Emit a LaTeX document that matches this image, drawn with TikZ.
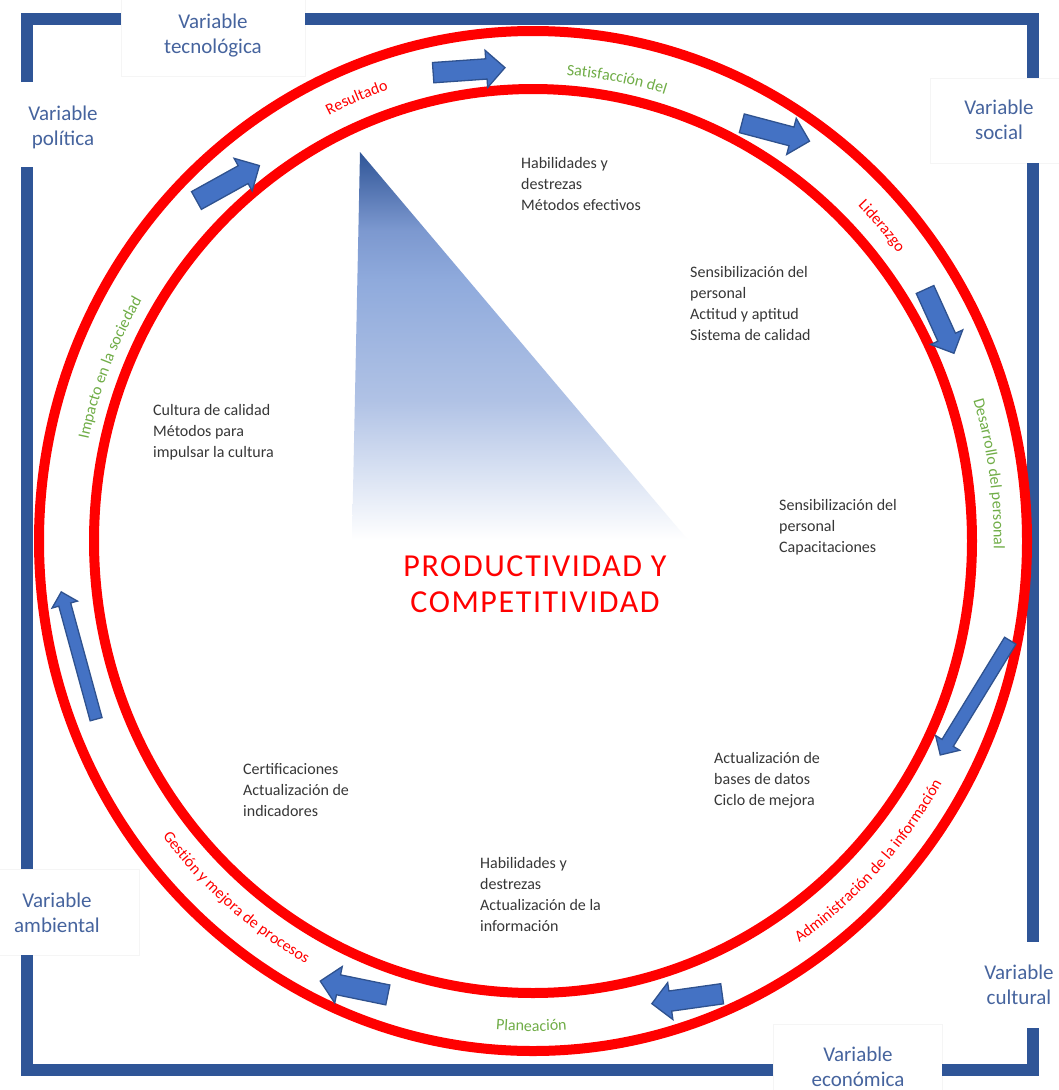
\documentclass[tikz,border=0pt]{standalone}
\usepackage{fontspec}
\setmainfont{Carlito}
\usetikzlibrary{shapes.arrows,decorations.text}
\definecolor{frameblue}{RGB}{47,85,151}
\definecolor{varblue}{RGB}{70,100,158}
\definecolor{ringred}{RGB}{255,0,0}
\definecolor{ringgreen}{RGB}{112,173,71}
\definecolor{txtgray}{RGB}{55,55,55}
\definecolor{arrowfill}{RGB}{68,114,196}
\definecolor{arrowedge}{RGB}{47,82,143}
\definecolor{tdark}{RGB}{47,85,151}
\definecolor{tmid}{RGB}{124,152,207}
\definecolor{tlight}{RGB}{143,170,220}
\definecolor{tpale}{RGB}{176,194,229}
\definecolor{tfaint}{RGB}{221,229,244}
\pgfdeclareverticalshading{trishade}{100bp}{color(0bp)=(white); color(25bp)=(white); color(32.7bp)=(tfaint); color(43bp)=(tpale); color(58.5bp)=(tlight); color(65bp)=(tmid); color(75bp)=(tdark); color(100bp)=(tdark)}
\newcommand\ringfont{\fontsize{16}{16}\selectfont}
\newcommand\ringlabel[5]{%
  \path[decorate, decoration={text along path, text align=center, text={|\ringfont\color{#4}|#5}}]
    (533,541) ++({#1-#3*35}:{466*#2} and {481*#2})
    arc[start angle={#1-#3*35}, end angle={#1+#3*35}, x radius={466*#2}, y radius={481*#2}];}
\begin{document}
\begin{tikzpicture}[x=1pt,y=-1pt,
  framepart/.style={line width=12pt, draw=frameblue, line join=miter, line cap=butt},
  faintbox/.style={draw=black!4, line width=0.8pt},
  ring/.style={draw=ringred, line width=10pt},
  varlabel/.style={anchor=north, inner sep=0pt, align=center, text=varblue, font=\fontsize{21}{25}\selectfont},
  bodytext/.style={anchor=north west, inner sep=0pt, align=left, text=txtgray, font=\fontsize{16}{21}\selectfont},
  titletext/.style={anchor=north, inner sep=0pt, align=center, text=ringred, font=\fontsize{32}{36}\selectfont\addfontfeatures{LetterSpace=5}},
  barrow/.style n args={4}{single arrow, draw=arrowedge, fill=arrowfill, line width=1.3pt,
     inner xsep=0pt, inner ysep=#2, single arrow head extend=#3, minimum height=#1,
     single arrow head indent=0pt, rotate=#4}]
\fill[white] (0,0) rectangle (1059,1090);
\useasboundingbox (0,0) rectangle (1059,1090);

% faint label boxes
\draw[faintbox] (121,-1) rectangle (305,76);
\draw[faintbox] (930,78) rectangle (1060,163);
\draw[faintbox] (-1,869) rectangle (139,955);
\draw[faintbox] (773,1024) rectangle (942,1091);

% frame
\draw[framepart] (27,82) -- (27,19) -- (121,19);
\draw[framepart] (305,19) -- (1033,19) -- (1033,78);
\draw[framepart] (1033,163) -- (1033,942);
\draw[framepart] (1033,1028) -- (1033,1070) -- (942,1070);
\draw[framepart] (773,1070) -- (27,1070) -- (27,955);
\draw[framepart] (27,869) -- (27,167);

% variable labels
\node[varlabel] (vtec) at (213,10.5) {\strut Variable\\tecnológica};
\node[varlabel] (vpol) at (63,102.5) {\strut Variable\\política};
\node[varlabel] (vsoc) at (999,96.5) {\strut Variable\\social};
\node[varlabel] (vcul) at (1019,961.5) {\strut Variable\\cultural};
\node[varlabel] (veco) at (858,1043.5) {\strut Variable\\económica};
\node[varlabel] (vamb) at (57,889.5) {\strut Variable\\ambiental};

% rings
\draw[ring] (533,541) ellipse [x radius=494, y radius=510];
\draw[ring] (533,541) ellipse [x radius=439, y radius=452];

% gradient triangle
\shade[shading=trishade] (360,152) -- (352,540) -- (688,540) -- cycle;

% title
\node[titletext] (title) at (535,550.8) {\strut PRODUCTIVIDAD Y\\COMPETITIVIDAD};

% body texts
\node[bodytext] (t1) at (521,153.3) {\strut Habilidades y\\destrezas\\Métodos efectivos};
\node[bodytext] (t2) at (690,262.3) {\strut Sensibilización del\\personal\\Actitud y aptitud\\Sistema de calidad};
\node[bodytext] (t3) at (153,400.3) {\strut Cultura de calidad\\Métodos para\\impulsar la cultura};
\node[bodytext] (t4) at (779,495.3) {\strut Sensibilización del\\personal\\Capacitaciones};
\node[bodytext] (t5) at (714,748.3) {\strut Actualización de\\bases de datos\\Ciclo de mejora};
\node[bodytext] (t6) at (243,759.3) {\strut Certificaciones\\Actualización de\\indicadores};
\node[bodytext] (t7) at (480,853.3) {\strut Habilidades y\\destrezas\\Actualización de la\\información};

% ring labels
\ringlabel{247.9}{0.988}{1}{ringred}{Resultado}
\ringlabel{280.5}{0.971}{1}{ringgreen}{Satisfacción del}
\ringlabel{318.5}{0.986}{1}{ringred}{Liderazgo}
\ringlabel{351.8}{0.989}{1}{ringgreen}{Desarrollo del personal}
\ringlabel{43}{1.012}{-1}{ringred}{Administración de la información}
\ringlabel{90.2}{1.019}{-1}{ringgreen}{Planeación}
\ringlabel{130.4}{1.005}{-1}{ringred}{Gestión y mejora de procesos}
\ringlabel{201.8}{0.977}{1}{ringgreen}{Impacto en la sociedad}

% block arrows
\node[barrow={72pt}{9.5pt}{8.5pt}{4}] (a1) at (464,70.5) {};
\node[barrow={70pt}{9pt}{9pt}{-14.8}] (a2) at (771,131) {};
\node[barrow={70pt}{9pt}{8pt}{-65.6}] (a3) at (937.5,317) {};
\node[barrow={134pt}{6pt}{7.5pt}{-121.5}] (a4) at (977,695) {};
\node[barrow={71pt}{9.5pt}{8.5pt}{188}] (a5) at (692,998) {};
\node[barrow={69pt}{9.5pt}{8.5pt}{168.4}] (a6) at (359,989) {};
\node[barrow={132pt}{5.5pt}{7pt}{105.3}] (a7) at (79.5,658.5) {};
\node[barrow={72pt}{9.5pt}{8.5pt}{29}] (a8) at (223.5,185.5) {};
\end{tikzpicture}
\end{document}
